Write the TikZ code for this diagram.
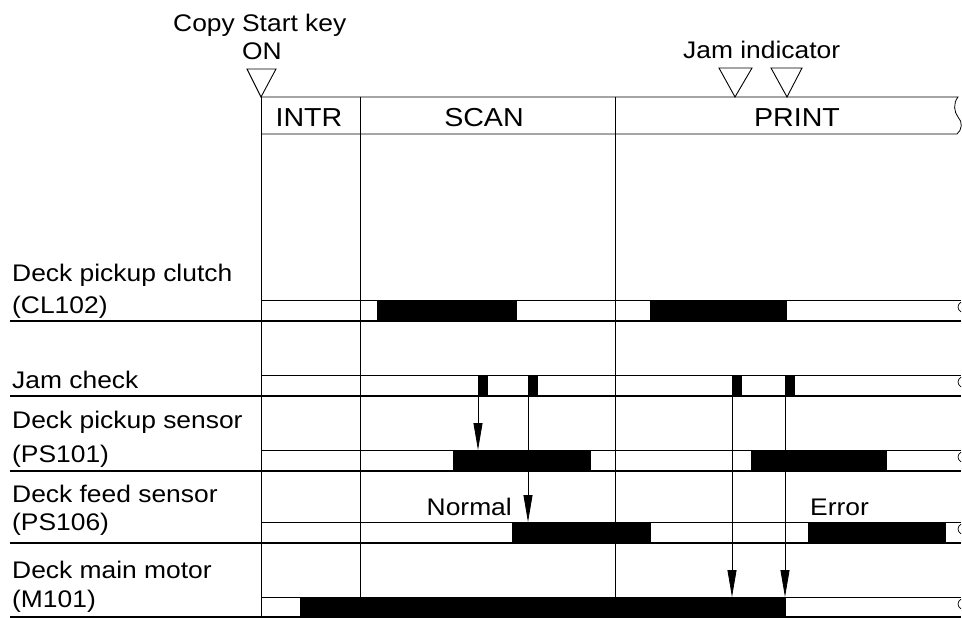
\documentclass[tikz,border=0pt]{standalone}
\usepackage{fontspec}
\setmainfont[FakeStretch=1.1]{Liberation Sans}
\usetikzlibrary{arrows.meta}
\begin{document}
\begin{tikzpicture}[x=1pt,y=-1pt,
  lbl/.style={anchor=base west,inner sep=0pt,font=\fontsize{24}{28}\selectfont},
  hdr/.style={anchor=base,inner sep=0pt,font=\fontsize{26}{30}\selectfont},
  sepline/.style={line width=1.3pt},
  thinline/.style={line width=0.8pt},
  onbar/.style={fill=black},
  tri/.style={draw,line width=0.9pt,fill=white,line join=miter},
  jamarrow/.style={line width=0.8pt,-{Triangle[length=27pt,width=9pt]}},
  wavy/.style={line width=0.7pt}]
\useasboundingbox (0,0) rectangle (962,618);

% top texts
\node[lbl] (copy) at (173,32) {Copy Start key};
\node[lbl] (on) at (242,60) {ON};
\node[lbl] (jamind) at (683,59) {Jam indicator};

% triangles
\draw[tri] (247,69) -- (276,69) -- (261,97) -- cycle;
\draw[tri] (719,68) -- (752,68) -- (735,97) -- cycle;
\draw[tri] (771,68) -- (802,68) -- (787,97) -- cycle;

% vertical lines
\draw[thinline] (261,97) -- (261,617);
\draw[thinline] (360,97) -- (360,617);
\draw[thinline] (615,97) -- (615,617);

% header box
\draw[thinline] (261,97) -- (958,97)
  .. controls (953,103) and (954,112) .. (958,117)
  .. controls (963,122) and (962,130) .. (957,134) -- (261,134);
\node[hdr] (intr) at (309,127) {INTR};
\node[hdr] (scan) at (484,127) {SCAN};
\node[hdr] (print) at (797,127) {PRINT};

% signal labels
\node[lbl] (l1a) at (12,281) {Deck pickup clutch};
\node[lbl] (l1b) at (12,313) {(CL102)};
\node[lbl] (l2) at (12,388) {Jam check};
\node[lbl] (l3a) at (12,428) {Deck pickup sensor};
\node[lbl] (l3b) at (12,462) {(PS101)};
\node[lbl] (l4a) at (12,502) {Deck feed sensor};
\node[lbl] (l4b) at (12,530) {(PS106)};
\node[lbl] (l5a) at (12,578) {Deck main motor};
\node[lbl] (l5b) at (12,607) {(M101)};

% ON periods
% clutch
\fill[onbar] (377,300) rectangle (517,321);
\fill[onbar] (650,300) rectangle (787,321);
% jam check
\fill[onbar] (478,375) rectangle (488,396);
\fill[onbar] (528,375) rectangle (538,396);
\fill[onbar] (732,375) rectangle (742,396);
\fill[onbar] (785,375) rectangle (795,396);
% PS101
\fill[onbar] (453,450) rectangle (591,471);
\fill[onbar] (751,450) rectangle (887,471);
% PS106
\fill[onbar] (512,522) rectangle (651,543);
\fill[onbar] (808,522) rectangle (946,543);
% M101
\fill[onbar] (300,597) rectangle (786,617);

% row lines
\foreach \t/\b in {300/321,375/396,450/471,522/543,597/617}{
  \draw[thinline] (261,\t) -- (961,\t);
  \draw[sepline] (10,\b) -- (961,\b);
  \draw[wavy] (961,\t+2) .. controls (957,\t+5) and (957,\t+9) .. (961,\t+12);
}

% jam check arrows
\coordinate (ja) at (478,396);
\coordinate (jb) at (528,396);
\coordinate (jc) at (732,396);
\coordinate (jd) at (785,396);
\coordinate (ta) at (478,450);
\coordinate (tb) at (528,522);
\coordinate (tc) at (732,597);
\coordinate (td) at (785,597);
\draw[jamarrow] (ja) -- (ta);
\draw[jamarrow] (jb) -- (tb);
\draw[jamarrow] (jc) -- (tc);
\draw[jamarrow] (jd) -- (td);

\node[lbl,anchor=base east] (normal) at (512,515) {Normal};
\node[lbl] (error) at (810,515) {Error};
\end{tikzpicture}
\end{document}
